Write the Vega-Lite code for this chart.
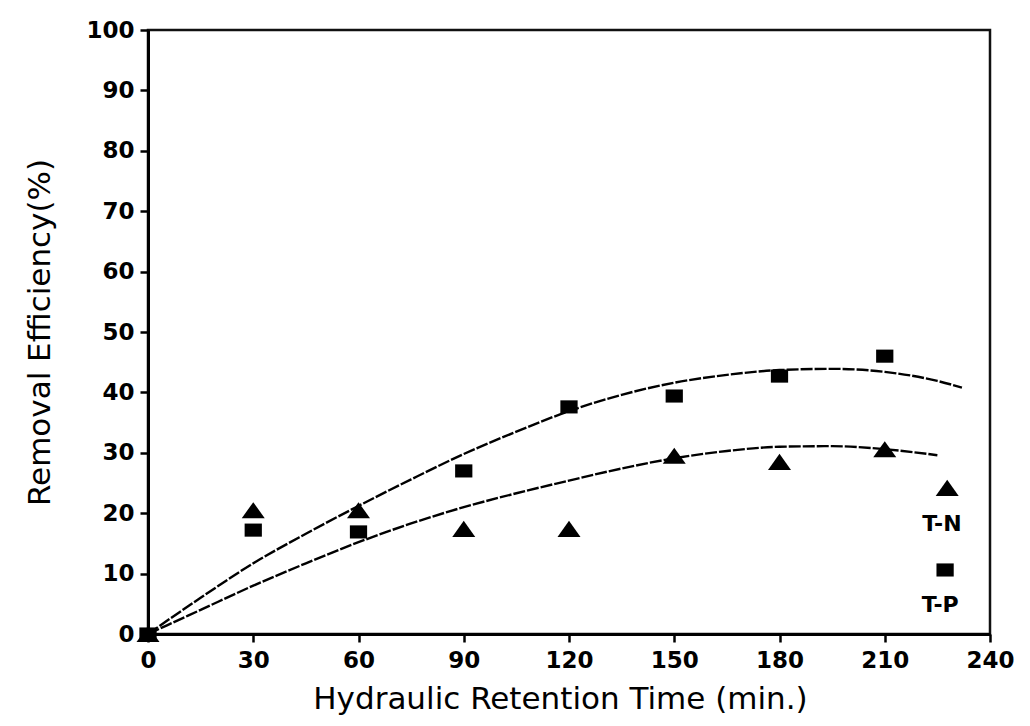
{
  "$schema": "https://vega.github.io/schema/vega-lite/v6.json",
  "width": 842,
  "height": 604,
  "autosize": {"type": "none"},
  "padding": {"left": 148, "top": 30, "right": 40, "bottom": 92},
  "background": "white",
  "config": {
    "font": "DejaVu Sans",
    "view": {"stroke": "#111111", "strokeWidth": 2.5},
    "axis": {
      "grid": false,
      "tickSize": 8,
      "tickWidth": 2.5,
      "tickColor": "black",
      "domainColor": "black",
      "domainWidth": 3,
      "labelFontSize": 23,
      "labelFontWeight": "bold",
      "labelColor": "black",
      "labelFont": "DejaVu Sans",
      "titleFont": "DejaVu Sans",
      "titleFontSize": 31,
      "titleFontWeight": "normal",
      "titleColor": "black"
    }
  },
  "datasets": {
    "measured": [
      {"series": "T-N", "time": 0, "efficiency": 0},
      {"series": "T-N", "time": 30, "efficiency": 20.5},
      {"series": "T-N", "time": 60, "efficiency": 20.5},
      {"series": "T-N", "time": 90, "efficiency": 17.4},
      {"series": "T-N", "time": 120, "efficiency": 17.4},
      {"series": "T-N", "time": 150, "efficiency": 29.5},
      {"series": "T-N", "time": 180, "efficiency": 28.5},
      {"series": "T-N", "time": 210, "efficiency": 30.6},
      {"series": "T-P", "time": 0, "efficiency": 0},
      {"series": "T-P", "time": 30, "efficiency": 17.2},
      {"series": "T-P", "time": 60, "efficiency": 16.9},
      {"series": "T-P", "time": 90, "efficiency": 27.0},
      {"series": "T-P", "time": 120, "efficiency": 37.6},
      {"series": "T-P", "time": 150, "efficiency": 39.4},
      {"series": "T-P", "time": 180, "efficiency": 42.7},
      {"series": "T-P", "time": 210, "efficiency": 46.0}
    ],
    "fit": [
      {"series": "T-P", "time": 0, "efficiency": 0},
      {"series": "T-P", "time": 15, "efficiency": 6.0},
      {"series": "T-P", "time": 30, "efficiency": 11.7},
      {"series": "T-P", "time": 45, "efficiency": 16.6},
      {"series": "T-P", "time": 60, "efficiency": 21.2},
      {"series": "T-P", "time": 75, "efficiency": 25.6},
      {"series": "T-P", "time": 90, "efficiency": 29.8},
      {"series": "T-P", "time": 105, "efficiency": 33.5},
      {"series": "T-P", "time": 120, "efficiency": 36.9},
      {"series": "T-P", "time": 135, "efficiency": 39.6},
      {"series": "T-P", "time": 150, "efficiency": 41.6},
      {"series": "T-P", "time": 165, "efficiency": 42.9},
      {"series": "T-P", "time": 180, "efficiency": 43.7},
      {"series": "T-P", "time": 195, "efficiency": 43.9},
      {"series": "T-P", "time": 210, "efficiency": 43.4},
      {"series": "T-P", "time": 225, "efficiency": 41.9},
      {"series": "T-P", "time": 232, "efficiency": 40.8},
      {"series": "T-N", "time": 0, "efficiency": 0},
      {"series": "T-N", "time": 15, "efficiency": 4.0},
      {"series": "T-N", "time": 30, "efficiency": 8.0},
      {"series": "T-N", "time": 45, "efficiency": 11.7},
      {"series": "T-N", "time": 60, "efficiency": 15.2},
      {"series": "T-N", "time": 75, "efficiency": 18.3},
      {"series": "T-N", "time": 90, "efficiency": 21.0},
      {"series": "T-N", "time": 105, "efficiency": 23.3},
      {"series": "T-N", "time": 120, "efficiency": 25.4},
      {"series": "T-N", "time": 135, "efficiency": 27.4},
      {"series": "T-N", "time": 150, "efficiency": 29.1},
      {"series": "T-N", "time": 165, "efficiency": 30.3},
      {"series": "T-N", "time": 180, "efficiency": 31.0},
      {"series": "T-N", "time": 195, "efficiency": 31.1},
      {"series": "T-N", "time": 210, "efficiency": 30.6},
      {"series": "T-N", "time": 225, "efficiency": 29.6}
    ],
    "key": [
      {"series": "T-N"},
      {"series": "T-P"}
    ]
  },
  "layer": [
    {
      "data": {"name": "fit"},
      "mark": {"type": "line", "color": "black", "strokeWidth": 2.4, "strokeDash": [12, 2], "interpolate": "monotone"},
      "encoding": {
        "x": {
          "field": "time",
          "type": "quantitative",
          "scale": {"domain": [0, 240], "nice": false, "zero": true},
          "axis": {
            "title": "Hydraulic Retention Time (min.)",
            "values": [0, 30, 60, 90, 120, 150, 180, 210, 240],
            "labelPadding": 7,
            "titlePadding": 12,
            "titleX": 412,
            "labelFlush": false
          }
        },
        "y": {
          "field": "efficiency",
          "type": "quantitative",
          "scale": {"domain": [0, 100], "nice": false},
          "axis": {
            "title": "Removal Efficiency(%)",
            "values": [0, 10, 20, 30, 40, 50, 60, 70, 80, 90, 100],
            "labelPadding": 6,
            "titlePadding": 29
          }
        },
        "detail": {"field": "series", "type": "nominal"}
      }
    },
    {
      "data": {"name": "measured"},
      "mark": {"type": "point", "filled": true, "color": "black", "opacity": 1, "size": 529},
      "encoding": {
        "x": {"field": "time", "type": "quantitative"},
        "y": {"field": "efficiency", "type": "quantitative"},
        "shape": {
          "field": "series",
          "type": "nominal",
          "scale": {"domain": ["T-N", "T-P"], "range": ["M-1,0.7L1,0.7L0,-0.7Z", "M-0.75,-0.57L0.75,-0.57L0.75,0.57L-0.75,0.57Z"]},
          "legend": null
        }
      }
    },
    {
      "data": {"name": "key"},
      "transform": [{"filter": "datum.series === 'T-N'"}],
      "mark": {"type": "point", "filled": true, "color": "black", "opacity": 1, "size": 529},
      "encoding": {
        "x": {"datum": 227.8, "type": "quantitative"},
        "y": {"datum": 24.2, "type": "quantitative"},
        "shape": {"field": "series", "type": "nominal", "legend": null}
      }
    },
    {
      "data": {"name": "key"},
      "transform": [{"filter": "datum.series === 'T-P'"}],
      "mark": {"type": "point", "filled": true, "color": "black", "opacity": 1, "size": 529},
      "encoding": {
        "x": {"datum": 227.2, "type": "quantitative"},
        "y": {"datum": 10.6, "type": "quantitative"},
        "shape": {"field": "series", "type": "nominal", "legend": null}
      }
    },
    {
      "data": {"name": "key"},
      "transform": [{"filter": "datum.series === 'T-N'"}],
      "mark": {"type": "text", "font": "DejaVu Sans", "fontWeight": "bold", "fontSize": 22, "color": "black", "align": "center", "baseline": "middle"},
      "encoding": {
        "x": {"datum": 226.3, "type": "quantitative"},
        "y": {"datum": 18.2, "type": "quantitative"},
        "text": {"field": "series"}
      }
    },
    {
      "data": {"name": "key"},
      "transform": [{"filter": "datum.series === 'T-P'"}],
      "mark": {"type": "text", "font": "DejaVu Sans", "fontWeight": "bold", "fontSize": 22, "color": "black", "align": "center", "baseline": "middle"},
      "encoding": {
        "x": {"datum": 225.8, "type": "quantitative"},
        "y": {"datum": 4.8, "type": "quantitative"},
        "text": {"field": "series"}
      }
    }
  ]
}
